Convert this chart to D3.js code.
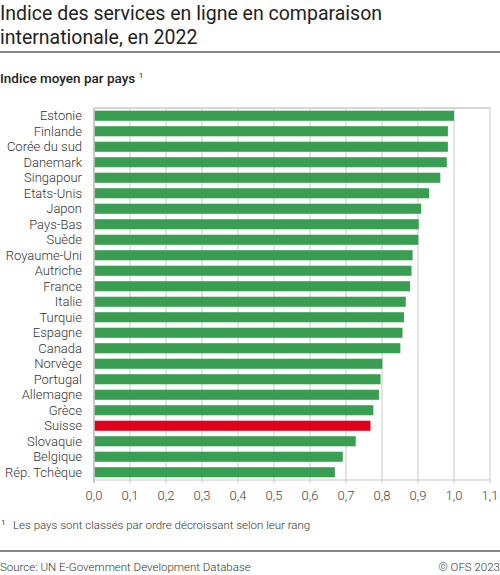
<!DOCTYPE html>
<html>
<head>
<meta charset="utf-8">
<script src="https://cdn.jsdelivr.net/npm/d3@7"></script>
<style>
  body { margin: 0; background: #fff; }
  svg text { font-family: Roboto, "Noto Sans", sans-serif; }
</style>
</head>
<body>
<div id="chart"></div>
<script>
// pays, classés par rang
var countries = ["Estonie", "Finlande", "Corée du sud", "Danemark", "Singapour", "Etats-Unis",
    "Japon", "Pays-Bas", "Suède", "Royaume-Uni", "Autriche", "France", "Italie", "Turquie",
    "Espagne", "Canada", "Norvège", "Portugal", "Allemagne", "Grèce", "Suisse", "Slovaquie",
    "Belgique", "Rép. Tchèque"];
// indice des services en ligne 2022
var values = [1.000, 0.983, 0.983, 0.980, 0.962, 0.931, 0.909, 0.902, 0.901, 0.885, 0.882,
    0.878, 0.866, 0.861, 0.857, 0.851, 0.801, 0.796, 0.792, 0.776, 0.768, 0.727, 0.691, 0.669];
var ticks = [0, 0.1, 0.2, 0.3, 0.4, 0.5, 0.6, 0.7, 0.8, 0.9, 1.0, 1.1];
var highlight = "Suisse";

var width = 500, height = 575;
var mLeft = 94, mRight = 490, mTop = 108, mBottom = 480;

var svg = d3.select("#chart").append("svg")
    .attr("width", width)
    .attr("height", height);

// titre
svg.append("text").attr("x", 0).attr("y", 20)
    .attr("font-size", 19.5).attr("fill", "#222")
    .text("Indice des services en ligne en comparaison");
svg.append("text").attr("x", 0).attr("y", 44)
    .attr("font-size", 19.5).attr("fill", "#222")
    .text("internationale, en 2022");
svg.append("line").attr("x1", 0).attr("x2", width).attr("y1", 52).attr("y2", 52)
    .attr("stroke", "#111").attr("stroke-width", 1);

var sub = svg.append("text").attr("x", 0).attr("y", 83)
    .attr("font-size", 13.5).attr("font-weight", 500).attr("fill", "#222");
sub.append("tspan").text("Indice moyen par pays ");
sub.append("tspan").attr("font-size", 8).attr("dy", -5).attr("font-weight", 400).text("1");

var x = d3.scaleLinear().domain([0, 1.1]).range([mLeft, mRight]);
var y = d3.scaleBand().domain(countries).range([mTop, mBottom])
    .paddingInner(0.35).paddingOuter(0.175);

// grille
svg.append("g").selectAll("line").data(ticks).enter().append("line")
    .attr("x1", function (d) { return x(d); })
    .attr("x2", function (d) { return x(d); })
    .attr("y1", mTop).attr("y2", mBottom + 3)
    .attr("stroke", function (d) { return d === 0 ? "#bbb" : "#c8c8c8"; })
    .attr("stroke-width", function (d) { return d === 0 ? 1.6 : 1; });
svg.append("line").attr("x1", mLeft).attr("x2", mRight).attr("y1", mTop).attr("y2", mTop)
    .attr("stroke", "#c8c8c8").attr("stroke-width", 1.6);
svg.append("line").attr("x1", mLeft).attr("x2", mRight).attr("y1", mBottom).attr("y2", mBottom)
    .attr("stroke", "#c8c8c8").attr("stroke-width", 1.2);

// barres
svg.append("g").selectAll("rect").data(countries).enter().append("rect")
    .attr("x", x(0) + 0.8)
    .attr("y", function (d) { return y(d); })
    .attr("width", function (d, i) { return x(values[i]) - x(0) - 0.8; })
    .attr("height", y.bandwidth())
    .attr("fill", function (d) { return d === highlight ? "#e1001a" : "#3a9e52"; });

// libellés des pays
svg.append("g").selectAll("text").data(countries).enter().append("text")
    .attr("x", 82)
    .attr("y", function (d) { return y(d) + y.bandwidth() / 2; })
    .attr("dy", "0.36em")
    .attr("text-anchor", "end")
    .attr("font-size", 13).attr("font-weight", 300).attr("fill", "#333")
    .text(function (d) { return d; });

// axe x
var fmt = function (d) { return d3.format(".1f")(d).replace(".", ","); };
svg.append("g").selectAll("text").data(ticks).enter().append("text")
    .attr("x", function (d) { return x(d); })
    .attr("y", 500)
    .attr("text-anchor", "middle")
    .attr("font-size", 13).attr("font-weight", 300).attr("fill", "#444")
    .text(fmt);

// note
svg.append("text").attr("x", 1).attr("y", 525)
    .attr("font-size", 8).attr("fill", "#444").text("1");
svg.append("text").attr("x", 13).attr("y", 529)
    .attr("font-size", 11.5).attr("font-weight", 300).attr("fill", "#333")
    .text("Les pays sont classés par ordre décroissant selon leur rang");

svg.append("line").attr("x1", 0).attr("x2", width).attr("y1", 551).attr("y2", 551)
    .attr("stroke", "#111").attr("stroke-width", 1);
svg.append("text").attr("x", 0).attr("y", 571)
    .attr("font-size", 11.5).attr("font-weight", 300).attr("fill", "#333")
    .text("Source: UN E-Government Development Database");
svg.append("text").attr("x", width).attr("y", 571).attr("text-anchor", "end")
    .attr("font-size", 11.5).attr("font-weight", 300).attr("fill", "#333")
    .text("© OFS 2023");
</script>
</body>
</html>
